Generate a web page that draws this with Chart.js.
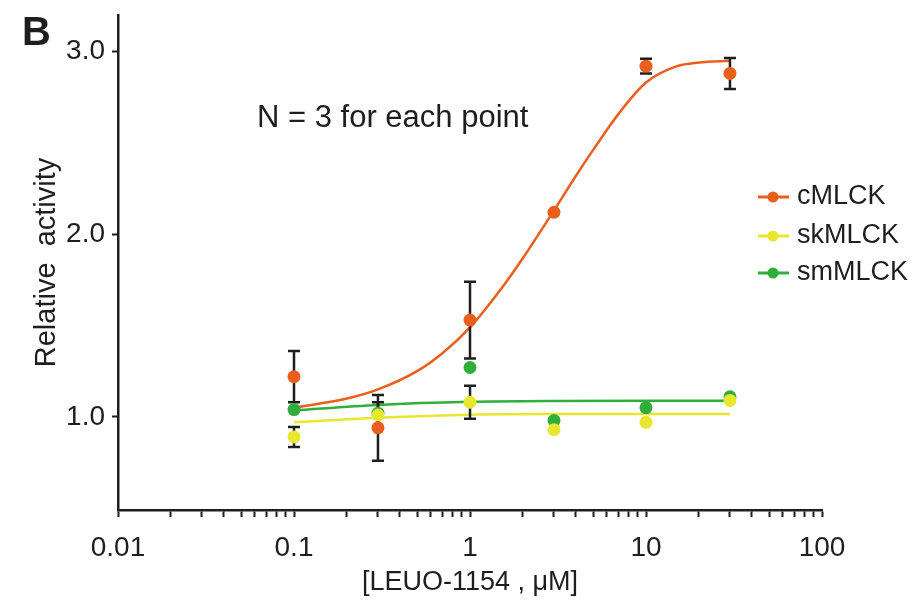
<!DOCTYPE html>
<html><head><meta charset="utf-8">
<script src="https://cdn.jsdelivr.net/npm/chart.js@4/dist/chart.umd.min.js"></script>
<style>html,body{margin:0;padding:0;background:#fff;}#wrap{width:912px;height:605px;position:relative;}</style>
</head><body><div id="wrap"><canvas id="c" width="912" height="605"></canvas></div>
<script>
// ---- data ----
const concentrations = [0.1, 0.3, 1, 3, 10, 30];
const cMLCK    = [1.22, 0.94, 1.53, 2.12, 2.92, 2.88];
const cMLCKErr = [0.14, 0.18, 0.21, 0, 0.04, 0.085];
const skMLCK    = [0.89, 1.01, 1.08, 0.93, 0.97, 1.09];
const skMLCKErr = [0.055, 0.07, 0.09, 0, 0, 0];
const smMLCK    = [1.04, 1.02, 1.27, 0.98, 1.05, 1.11];
const smMLCKErr = [0, 0, 0, 0, 0, 0];

const cFitX = [0.1, 0.2, 0.3, 0.5, 0.7, 1, 1.5, 2, 3, 4, 5, 7, 10, 15, 20, 30];
const cFitY = [1.05, 1.10, 1.15, 1.25, 1.35, 1.49, 1.70, 1.87, 2.13, 2.32, 2.46, 2.66, 2.83, 2.92, 2.94, 2.95];
const flatFitX = [0.1, 0.3, 1, 3, 10, 30];
const skFitY = [0.97, 0.995, 1.012, 1.015, 1.015, 1.015];
const smFitY = [1.035, 1.065, 1.082, 1.087, 1.088, 1.088];

const seriesNames = ['cMLCK', 'skMLCK', 'smMLCK'];
const xTickValues = [0.01, 0.1, 1, 10, 100];
const xTickLabels = ['0.01', '0.1', '1', '10', '100'];
const yTickValues = [1.0, 2.0, 3.0];
const yTickLabels = ['1.0', '2.0', '3.0'];

const COLORS = {cMLCK: '#ea5f1c', skMLCK: '#e9e62f', smMLCK: '#2fae3c'};
const FONT = "'Liberation Sans', Arial, sans-serif";
const INK = '#1e1e1e';

const pts = (xs, ys) => xs.map((x, i) => ({x, y: ys[i]}));

const errorSets = [
  {values: smMLCK, errors: smMLCKErr},
  {values: skMLCK, errors: skMLCKErr},
  {values: cMLCK, errors: cMLCKErr}
];

let errDrawn = false;
const errorBarPlugin = {
  id: 'errorBars',
  beforeDraw() { errDrawn = false; },
  beforeDatasetDraw(chart, args) {
    if (errDrawn || !chart.data.datasets[args.index].isPoints) return;
    errDrawn = true;
    const {ctx, scales: {x, y}} = chart;
    ctx.save();
    ctx.strokeStyle = INK; ctx.lineWidth = 2.5; ctx.lineCap = 'butt';
    errorSets.forEach(({values, errors}) => {
      concentrations.forEach((c, i) => {
        const e = errors[i]; if (!e) return;
        const px = x.getPixelForValue(c);
        const t = y.getPixelForValue(values[i] + e), b = y.getPixelForValue(values[i] - e);
        ctx.beginPath();
        ctx.moveTo(px, t); ctx.lineTo(px, b);
        ctx.moveTo(px - 6, t); ctx.lineTo(px + 6, t);
        ctx.moveTo(px - 6, b); ctx.lineTo(px + 6, b);
        ctx.stroke();
      });
    });
    ctx.restore();
  }
};

const decorPlugin = {
  id: 'decor',
  afterDraw(chart) {
    const ctx = chart.ctx;
    ctx.save();
    ctx.fillStyle = INK;
    ctx.font = "bold 40px 'Liberation Sans', Arial, sans-serif";
    ctx.textBaseline = 'alphabetic'; ctx.textAlign = 'left';
    ctx.fillText('B', 22, 45);
    ctx.font = '31px ' + FONT;
    ctx.textBaseline = 'middle';
    ctx.fillText('N = 3 for each point', 257, 118);
    const ys = [197, 236, 273];
    ctx.font = '27px ' + FONT;
    seriesNames.forEach((n, i) => {
      const col = COLORS[n];
      ctx.strokeStyle = col; ctx.lineWidth = 3;
      ctx.beginPath(); ctx.moveTo(758, ys[i]); ctx.lineTo(789, ys[i]); ctx.stroke();
      ctx.fillStyle = col;
      ctx.beginPath(); ctx.arc(773, ys[i], 5.5, 0, Math.PI * 2); ctx.fill();
      ctx.fillStyle = INK;
      ctx.fillText(n, 797, ys[i]);
    });
    ctx.restore();
  }
};

// lower "order" is drawn later (on top)
const lineDs = (label, xs, ys, col, order) => ({
  label, data: pts(xs, ys), borderColor: col, backgroundColor: col,
  borderWidth: 2.5, pointRadius: 0, showLine: true, cubicInterpolationMode: 'monotone', order
});
const pointDs = (label, ys, col, order) => ({
  label, data: pts(concentrations, ys), isPoints: true, showLine: false,
  pointRadius: 6.5, pointBackgroundColor: col, pointBorderWidth: 0, borderColor: col, order
});

Chart.defaults.font.family = FONT;
Chart.defaults.color = INK;

new Chart(document.getElementById('c'), {
  type: 'line',
  data: {
    datasets: [
      lineDs('smFit', flatFitX, smFitY, COLORS.smMLCK, 6),
      lineDs('skFit', flatFitX, skFitY, COLORS.skMLCK, 5),
      lineDs('cFit', cFitX, cFitY, COLORS.cMLCK, 4),
      pointDs('smMLCK', smMLCK, COLORS.smMLCK, 3),
      pointDs('skMLCK', skMLCK, COLORS.skMLCK, 2),
      pointDs('cMLCK', cMLCK, COLORS.cMLCK, 1)
    ]
  },
  options: {
    responsive: false, animation: false, devicePixelRatio: 1,
    layout: {padding: {left: 0, right: 90, top: 15, bottom: 0}},
    plugins: {legend: {display: false}, tooltip: {enabled: false}},
    scales: {
      x: {
        type: 'logarithmic', min: 0.01, max: 100,
        border: {display: true, color: INK, width: 2.5},
        grid: {display: true, drawOnChartArea: false, drawTicks: true, tickLength: 7, tickWidth: 2, tickColor: INK},
        afterBuildTicks(s) {
          const t = [];
          for (let d = 0; d < xTickValues.length; d++) {
            t.push({value: xTickValues[d]});
            if (d < xTickValues.length - 1) for (let m = 2; m <= 9; m++) t.push({value: +(xTickValues[d] * m).toPrecision(3)});
          }
          s.ticks = t;
        },
        ticks: {
          autoSkip: false, maxRotation: 0, padding: 14, color: INK,
          font: {size: 28, family: FONT},
          callback(v) { const i = xTickValues.findIndex(t => Math.abs(t - v) < t * 1e-6); return i >= 0 ? xTickLabels[i] : ''; }
        },
        title: {display: true, text: '[LEUO-1154 , μM]', color: INK, font: {size: 27, family: FONT}, padding: {top: 0, bottom: 6}},
        afterFit(s) { s.height = 95; s.paddingLeft = 0; s.paddingRight = 0; }
      },
      y: {
        type: 'linear', min: 0.49, max: 3.2,
        border: {display: true, color: INK, width: 2.5},
        grid: {display: true, drawOnChartArea: false, drawTicks: true, tickLength: 6, tickWidth: 2, tickColor: INK},
        afterBuildTicks(s) { s.ticks = yTickValues.map(v => ({value: v})); },
        ticks: {
          padding: 7, color: INK, font: {size: 28, family: FONT},
          callback(v) { const i = yTickValues.indexOf(v); return i >= 0 ? yTickLabels[i] : ''; }
        },
        title: {display: true, text: 'Relative  activity', color: INK, font: {size: 29, family: FONT}, padding: {top: 30, bottom: 0}},
        afterFit(s) { s.width = 118; s.paddingTop = 0; s.paddingBottom = 0; }
      }
    }
  },
  plugins: [errorBarPlugin, decorPlugin]
});
</script></body></html>
